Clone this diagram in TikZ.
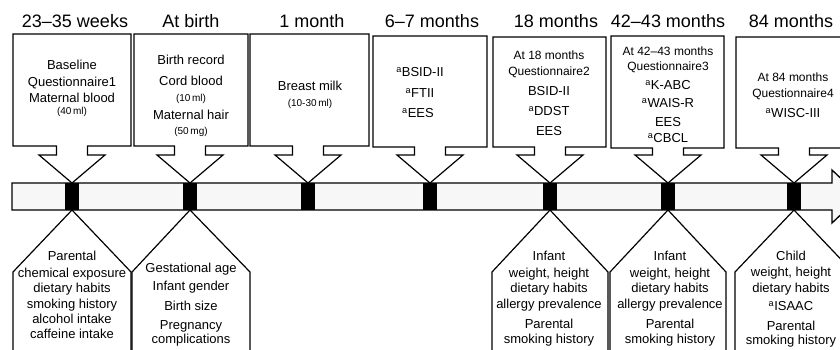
\documentclass[tikz,border=0pt]{standalone}
\usepackage{fontspec}
\setmainfont{Liberation Sans}
\newcommand\supa{\textsuperscript{a}}
\newcommand\callout[6]{%
  \draw[shp] (#1,#3) -- (#2,#3) -- (#2,#4) -- ({#5+15.5},#4) -- ({#5+15.5},155)
    -- ({#5+33},155) -- (#6.north) -- ({#5-33},155) -- ({#5-15.5},155)
    -- ({#5-15.5},#4) -- (#1,#4) -- cycle;}
\newcommand\pent[3]{%
  \draw[shp] ({#1-#2},360) -- ({#1-#2},272) -- (#3.south) -- ({#1+#2},272) -- ({#1+#2},360);}
\tikzset{
  shp/.style={draw=black, line width=1.2pt, fill=white, line join=miter},
  barshape/.style={draw=black, line width=1.3pt, fill=black!3, line join=miter},
  markbox/.style={draw=none, fill=black, minimum width=14pt, minimum height=27pt, inner sep=0pt, outer sep=0pt},
  ttl/.style={font=\fontsize{18}{20}\selectfont, anchor=base, inner sep=0pt},
  txt/.style={font=\fontsize{13}{15}\selectfont, anchor=base, inner sep=0pt},
  txh/.style={font=\fontsize{12}{14}\selectfont, anchor=base, inner sep=0pt},
  sml/.style={font=\fontsize{10}{12}\selectfont, anchor=base, inner sep=0pt},
}
\begin{document}
\begin{tikzpicture}[x=1pt,y=-1pt]
\clip (0,0) rectangle (840,349);
\fill[white] (0,0) rectangle (840,349);

% timeline bar
\draw[barshape] (12,183) -- (832,183) -- (832,170) -- (860,196.5) -- (832,223) -- (832,210) -- (12,210) -- cycle;
\foreach \x [count=\i] in {72,190,308,430,550,668,794}
  \node[markbox] (m\i) at (\x,196.5) {};

% titles
\node[ttl] (t1) at (75,27.5) {23–35 weeks};
\node[ttl] (t2) at (191,27.5) {At birth};
\node[ttl] (t3) at (312,27.5) {1 month};
\node[ttl] (t4) at (432,27.5) {6–7 months};
\node[ttl] (t5) at (556,27.5) {18 months};
\node[ttl] (t6) at (668,27.5) {42–43 months};
\node[ttl] (t7) at (791,27.5) {84 months};

% callout boxes
\callout{13}{131}{34}{146}{72}{m1}
\callout{134}{248}{34}{146}{190}{m2}
\callout{250}{369}{34}{146}{308}{m3}
\callout{373}{487}{36}{147}{430}{m4}
\callout{493}{606}{37}{147}{550}{m5}
\callout{611}{724}{36}{148}{668}{m6}
\callout{736}{852}{37}{148}{794}{m7}

% box 1
\node[txt] (b1a) at (72,69.5) {Baseline};
\node[txt] (b1b) at (72,86.5) {Questionnaire1};
\node[txt] (b1c) at (72,102.5) {Maternal blood};
\node[sml] (b1d) at (72,114) {(40\,ml)};
% box 2
\node[txt] (b2a) at (191,64.5) {Birth record};
\node[txt] (b2b) at (191,85.5) {Cord blood};
\node[sml] (b2c) at (191,101) {(10\,ml)};
\node[txt] (b2d) at (191,119.5) {Maternal hair};
\node[sml] (b2e) at (191,134) {(50\,mg)};
% box 3
\node[txt] (b3a) at (310,90.5) {Breast milk};
\node[sml] (b3b) at (310,106) {(10-30\,ml)};
% box 4
\node[txt] (b4a) at (420,76.5) {\supa BSID-II};
\node[txt] (b4b) at (420,97.5) {\supa FTII};
\node[txt] (b4c) at (418,117.5) {\supa EES};
% box 5
\node[txh] (b5a) at (549,59.5) {At 18 months};
\node[txh] (b5b) at (549,75.5) {Questionnaire2};
\node[txt] (b5c) at (549,95.5) {BSID-II};
\node[txt] (b5d) at (549,115.5) {\supa DDST};
\node[txt] (b5e) at (549,135.5) {EES};
% box 6
\node[txh] (b6a) at (668,55.5) {At 42–43 months};
\node[txh] (b6b) at (668,70.5) {Questionnaire3};
\node[txt] (b6c) at (668,89.5) {\supa K-ABC};
\node[txt] (b6d) at (668,107.5) {\supa WAIS-R};
\node[txt] (b6e) at (668,126.5) {EES};
\node[txt] (b6f) at (668,142.5) {\supa CBCL};
% box 7
\node[txh] (b7a) at (793,81.5) {At 84 months};
\node[txh] (b7b) at (793,97.5) {Questionnaire4};
\node[txt] (b7c) at (793,117.5) {\supa WISC-III};

% pentagons below
\pent{72}{59}{m1}
\pent{191}{59}{m2}
\pent{550}{58}{m5}
\pent{668}{58}{m6}
\pent{794}{59}{m7}

\foreach \y/\t [count=\i] in {260.5/Parental, 277.5/chemical exposure, 292.5/dietary habits,
    308.5/smoking history, 323.5/alcohol intake, 338.5/caffeine intake}
  \node[txt] (p1-\i) at (72,\y) {\t};
\foreach \y/\t [count=\i] in {272.5/Gestational age, 290.5/Infant gender, 310.5/Birth size,
    329.5/Pregnancy, 343.5/complications}
  \node[txt] (p2-\i) at (191,\y) {\t};
\foreach \y/\t [count=\i] in {260.5/Infant, 277.5/{weight, height}, 292.5/dietary habits,
    308.5/allergy prevalence, 328.5/Parental, 343.5/smoking history}
  \node[txt] (p5-\i) at (549,\y) {\t};
\foreach \y/\t [count=\i] in {260.5/Infant, 277.5/{weight, height}, 292.5/dietary habits,
    308.5/allergy prevalence, 328.5/Parental, 343.5/smoking history}
  \node[txt] (p6-\i) at (670,\y) {\t};
\foreach \y/\t [count=\i] in {260.5/Child, 276.5/{weight, height}, 292.5/dietary habits,
    310.5/\supa ISAAC, 330.5/Parental, 344.5/smoking history}
  \node[txt] (p7-\i) at (791,\y) {\t};
\end{tikzpicture}
\end{document}
